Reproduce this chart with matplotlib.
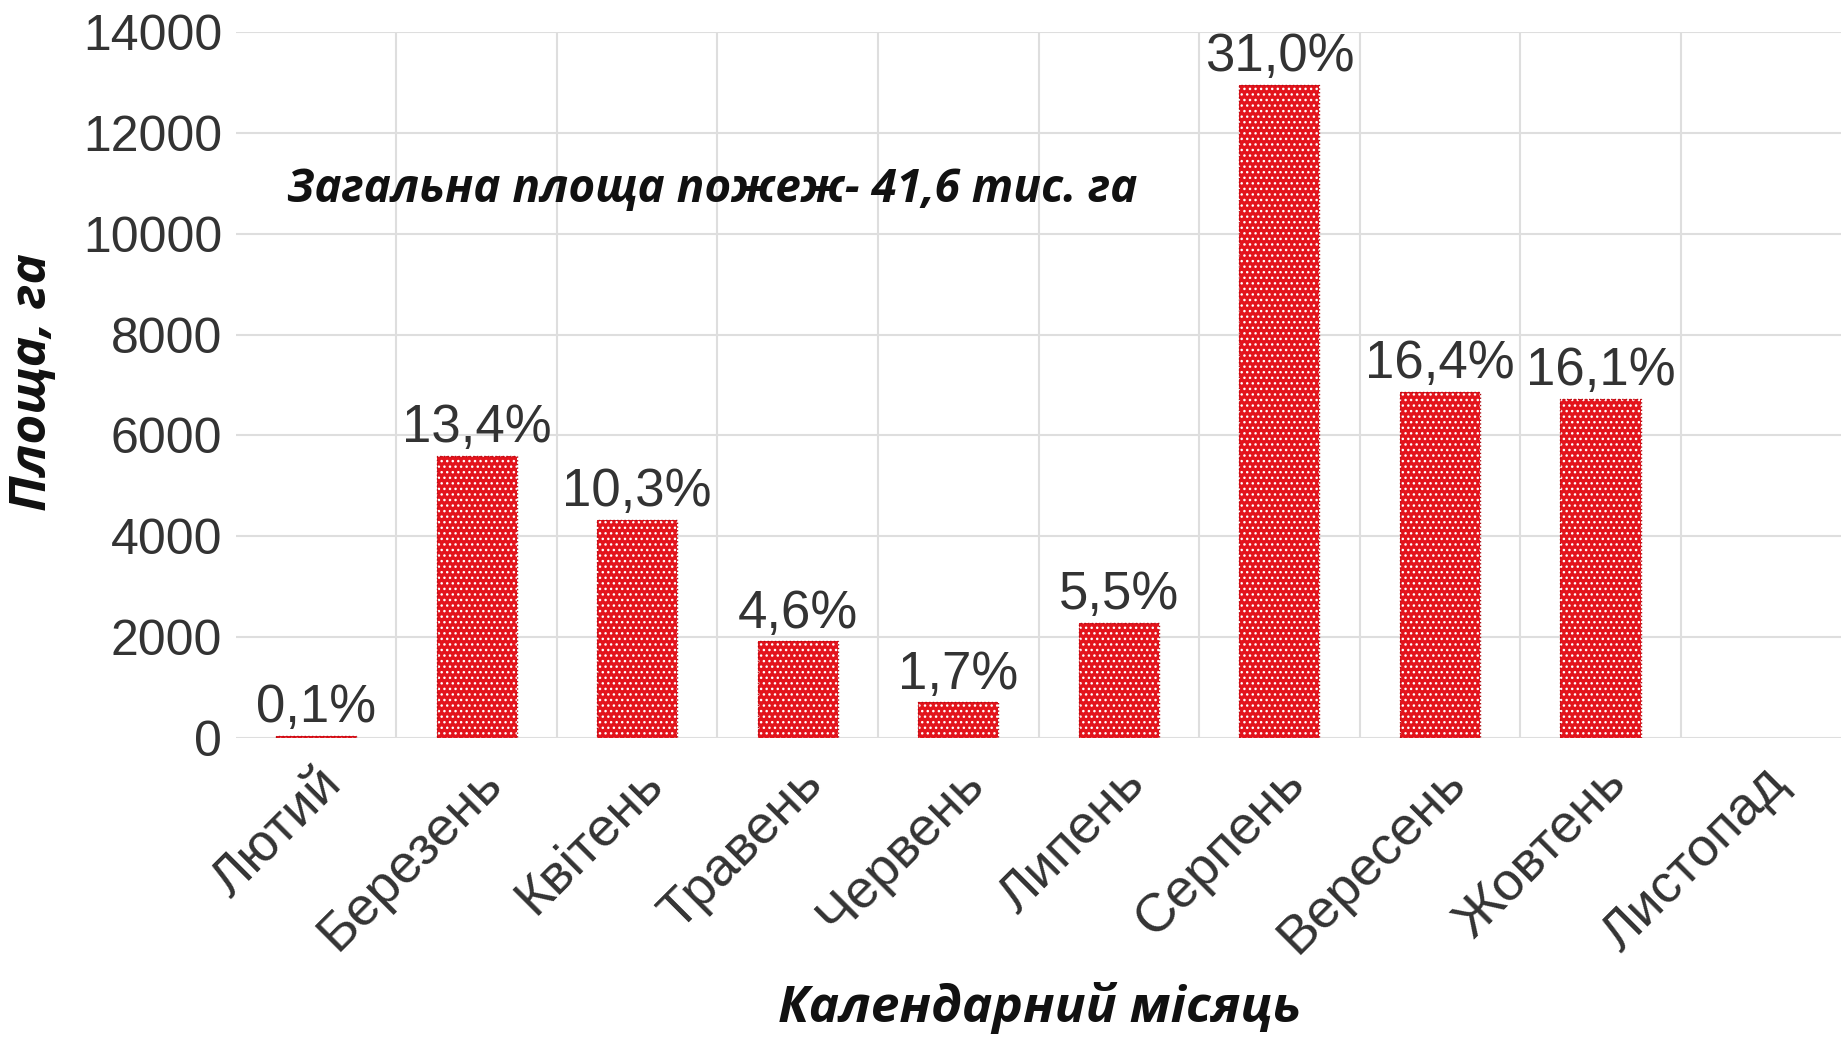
import matplotlib
matplotlib.use("Agg")
import matplotlib.pyplot as plt
import matplotlib.transforms as mtransforms

months = ["Лютий", "Березень", "Квітень", "Травень", "Червень",
          "Липень", "Серпень", "Вересень", "Жовтень", "Листопад"]
area_ha = [45, 5600, 4320, 1915, 705, 2290, 12950, 6860, 6720, 0]
share_pct = [0.1, 13.4, 10.3, 4.6, 1.7, 5.5, 31.0, 16.4, 16.1, None]
yticks = [0, 2000, 4000, 6000, 8000, 10000, 12000, 14000]
note = "Загальна площа пожеж- 41,6 тис. га"
xlabel = "Календарний місяць"
ylabel = "Площа, га"

plt.rcParams['hatch.linewidth'] = 1.0
BAR_RED = "#e3141c"
TXT = "#333333"
GRID = "#dedede"
TICKFONT = ["Liberation Sans", "DejaVu Sans"]
BOLDIT = ["Open Sans", "DejaVu Sans"]

fig = plt.figure(figsize=(18.43, 10.39), dpi=100)
ax = fig.add_axes([0.128, 0.2897, 0.871, 0.6795])

x = list(range(len(months)))
ax.bar(x, area_ha, width=0.5, color=BAR_RED, edgecolor="white",
       linewidth=0, hatch="...", zorder=3)
edge_c = ["#b01018" if v > 0 else "none" for v in area_ha]
ax.bar(x, area_ha, width=0.5, fill=False, edgecolor=edge_c,
       linewidth=1.0, linestyle=":", zorder=4)

for xi, v, p in zip(x, area_ha, share_pct):
    if p is None:
        continue
    ax.annotate(f"{p:.1f}%".replace(".", ","), (xi, v), xytext=(0, 2),
                textcoords="offset points", ha="center", va="bottom",
                fontsize=38, color=TXT, family=TICKFONT, zorder=5)

ax.set_xlim(-0.5, len(months) - 0.5)
ax.set_ylim(0, 14000)
ax.set_yticks(yticks)
ax.set_yticklabels([str(t) for t in yticks], fontsize=36, color=TXT,
                   family=TICKFONT)
ax.set_xticks(x)
ax.set_xticklabels(months, rotation=45, ha="right", va="top",
                   rotation_mode="anchor", fontsize=39, color=TXT,
                   family=TICKFONT)
offset = mtransforms.ScaledTranslation(10 / 100, 0, fig.dpi_scale_trans)
for lab in ax.get_xticklabels():
    lab.set_transform(lab.get_transform() + offset)

ax.tick_params(axis="both", length=0)
ax.tick_params(axis="y", pad=10)
ax.tick_params(axis="x", pad=14)

# grid: horizontal at y ticks, vertical at category boundaries
ax.set_xticks([i + 0.5 for i in x[:-1]], minor=True)
ax.grid(axis="y", which="major", color=GRID, linewidth=1.5, zorder=0)
ax.grid(axis="x", which="minor", color=GRID, linewidth=1.5, zorder=0)
ax.tick_params(axis="x", which="minor", length=0)
for s in ax.spines.values():
    s.set_visible(False)
ax.set_axisbelow(True)

ax.text(-0.18, 10870, note, ha="left", va="center", fontsize=33,
        fontweight="bold", fontstyle="italic", family=BOLDIT, color="#111111")

fig.text(1040 / 1843, 1 - 1008 / 1039, xlabel, ha="center", va="center",
         fontsize=37, fontweight="bold", fontstyle="italic", family=BOLDIT,
         color="#111111")
fig.text(33 / 1843, 1 - 382 / 1039, ylabel, ha="center", va="center",
         rotation=90, fontsize=37, fontweight="bold", fontstyle="italic",
         family=BOLDIT, color="#111111")

fig.savefig("out.png", dpi=100, facecolor="white")
